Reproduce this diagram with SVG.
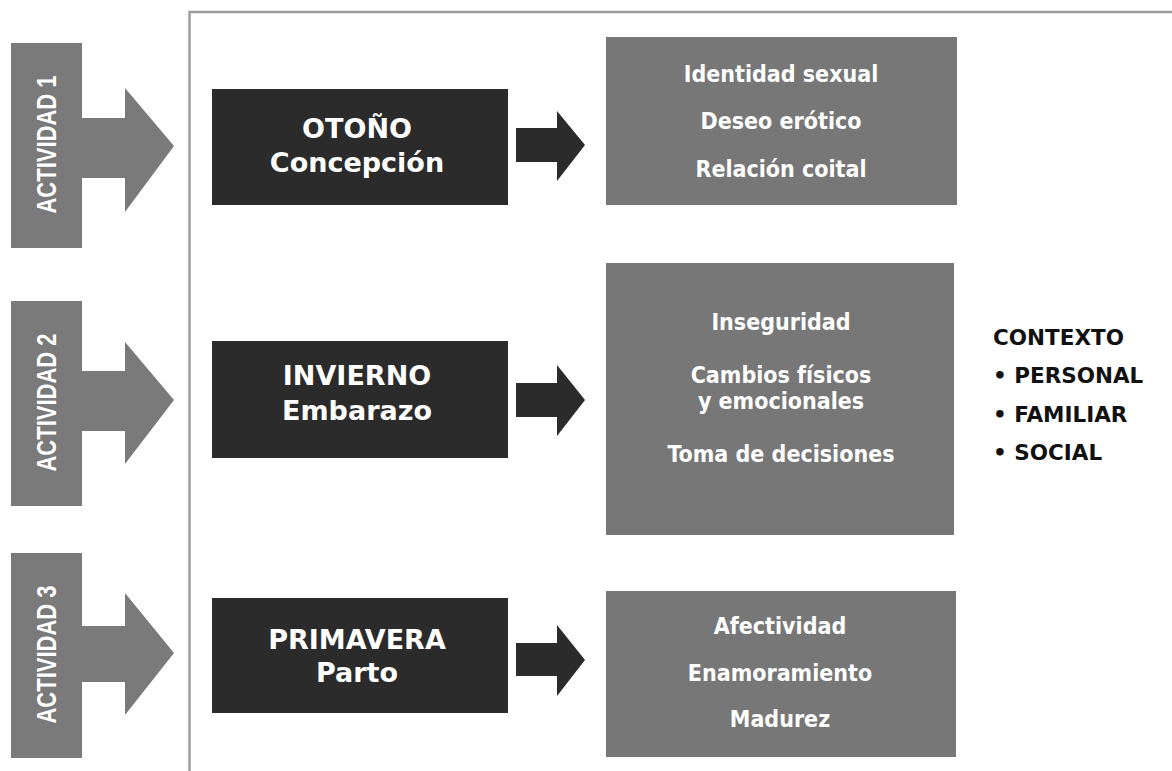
<svg xmlns="http://www.w3.org/2000/svg" width="1172" height="771" viewBox="0 0 1172 771">
<style>
.act{fill:#7a7a7a}
.actt{fill:#fff;font-family:"Liberation Sans",Arial,sans-serif;font-weight:bold;font-size:28px}
.dark{fill:#2b2b2b}
.darkt{fill:#fff;font-family:"DejaVu Sans",sans-serif;font-weight:bold;font-size:27px;text-anchor:middle}
.grey{fill:#777777}
.greyt{fill:#fff;font-family:"DejaVu Sans Condensed","DejaVu Sans",sans-serif;font-weight:bold;font-size:23px;text-anchor:middle}
.ctx{fill:#111;font-family:"DejaVu Sans",sans-serif;font-weight:bold;font-size:21.5px}
.frame{stroke:#999;stroke-width:2.4;fill:none}
</style>
<rect width="1172" height="771" fill="#fff"/>
<g id="frame"><path class="frame" d="M189.5 771 V12 H1172"/></g>

<g id="actividad1">
<path class="act" d="M11 43 H82 V118 H125 V88 L174 146 L125 212 V178 H82 V248 H11 Z"/>
<text class="actt" transform="translate(56,144.5) rotate(-90)" text-anchor="middle" textLength="138" lengthAdjust="spacingAndGlyphs">ACTIVIDAD 1</text>
</g>
<g id="actividad2">
<path class="act" d="M11 301 H82 V371 H125 V342 L174 400 L125 464 V431 H82 V506 H11 Z"/>
<text class="actt" transform="translate(56,402.5) rotate(-90)" text-anchor="middle" textLength="138" lengthAdjust="spacingAndGlyphs">ACTIVIDAD 2</text>
</g>
<g id="actividad3">
<path class="act" d="M11 553 H82 V626 H125 V593 L174 653 L125 715 V682 H82 V758 H11 Z"/>
<text class="actt" transform="translate(56,654.5) rotate(-90)" text-anchor="middle" textLength="138" lengthAdjust="spacingAndGlyphs">ACTIVIDAD 3</text>
</g>

<g id="otono">
<rect class="dark" x="212" y="89" width="296" height="116"/>
<text class="darkt" x="357" y="138">OTOÑO</text>
<text class="darkt" x="357" y="172">Concepción</text>
</g>
<g id="invierno">
<rect class="dark" x="212" y="341" width="296" height="117"/>
<text class="darkt" x="357" y="385">INVIERNO</text>
<text class="darkt" x="357" y="420">Embarazo</text>
</g>
<g id="primavera">
<rect class="dark" x="212" y="598" width="296" height="115"/>
<text class="darkt" x="357" y="649">PRIMAVERA</text>
<text class="darkt" x="357" y="682">Parto</text>
</g>

<g id="connectors">
<path class="dark" d="M516 128 H557 V111 L585 145 L557 181 V162 H516 Z"/>
<path class="dark" d="M516 383 H557 V365 L585 400 L557 436 V417 H516 Z"/>
<path class="dark" d="M516 643 H557 V625 L585 660 L557 696 V676 H516 Z"/>
</g>

<g id="box1">
<rect class="grey" x="606" y="37" width="351" height="168"/>
<text class="greyt" x="781" y="82">Identidad sexual</text>
<text class="greyt" x="781" y="129">Deseo erótico</text>
<text class="greyt" x="781" y="177">Relación coital</text>
</g>
<g id="box2">
<rect class="grey" x="606" y="263" width="348" height="272"/>
<text class="greyt" x="781" y="330">Inseguridad</text>
<text class="greyt" x="781" y="383">Cambios físicos</text>
<text class="greyt" x="781" y="409">y emocionales</text>
<text class="greyt" x="781" y="462">Toma de decisiones</text>
</g>
<g id="box3">
<rect class="grey" x="606" y="591" width="350" height="166"/>
<text class="greyt" x="780" y="634">Afectividad</text>
<text class="greyt" x="780" y="681">Enamoramiento</text>
<text class="greyt" x="780" y="727">Madurez</text>
</g>

<g id="contexto">
<text class="ctx" x="993" y="345">CONTEXTO</text>
<text class="ctx" x="993" y="383">• PERSONAL</text>
<text class="ctx" x="993" y="422">• FAMILIAR</text>
<text class="ctx" x="993" y="460">• SOCIAL</text>
</g>
</svg>
